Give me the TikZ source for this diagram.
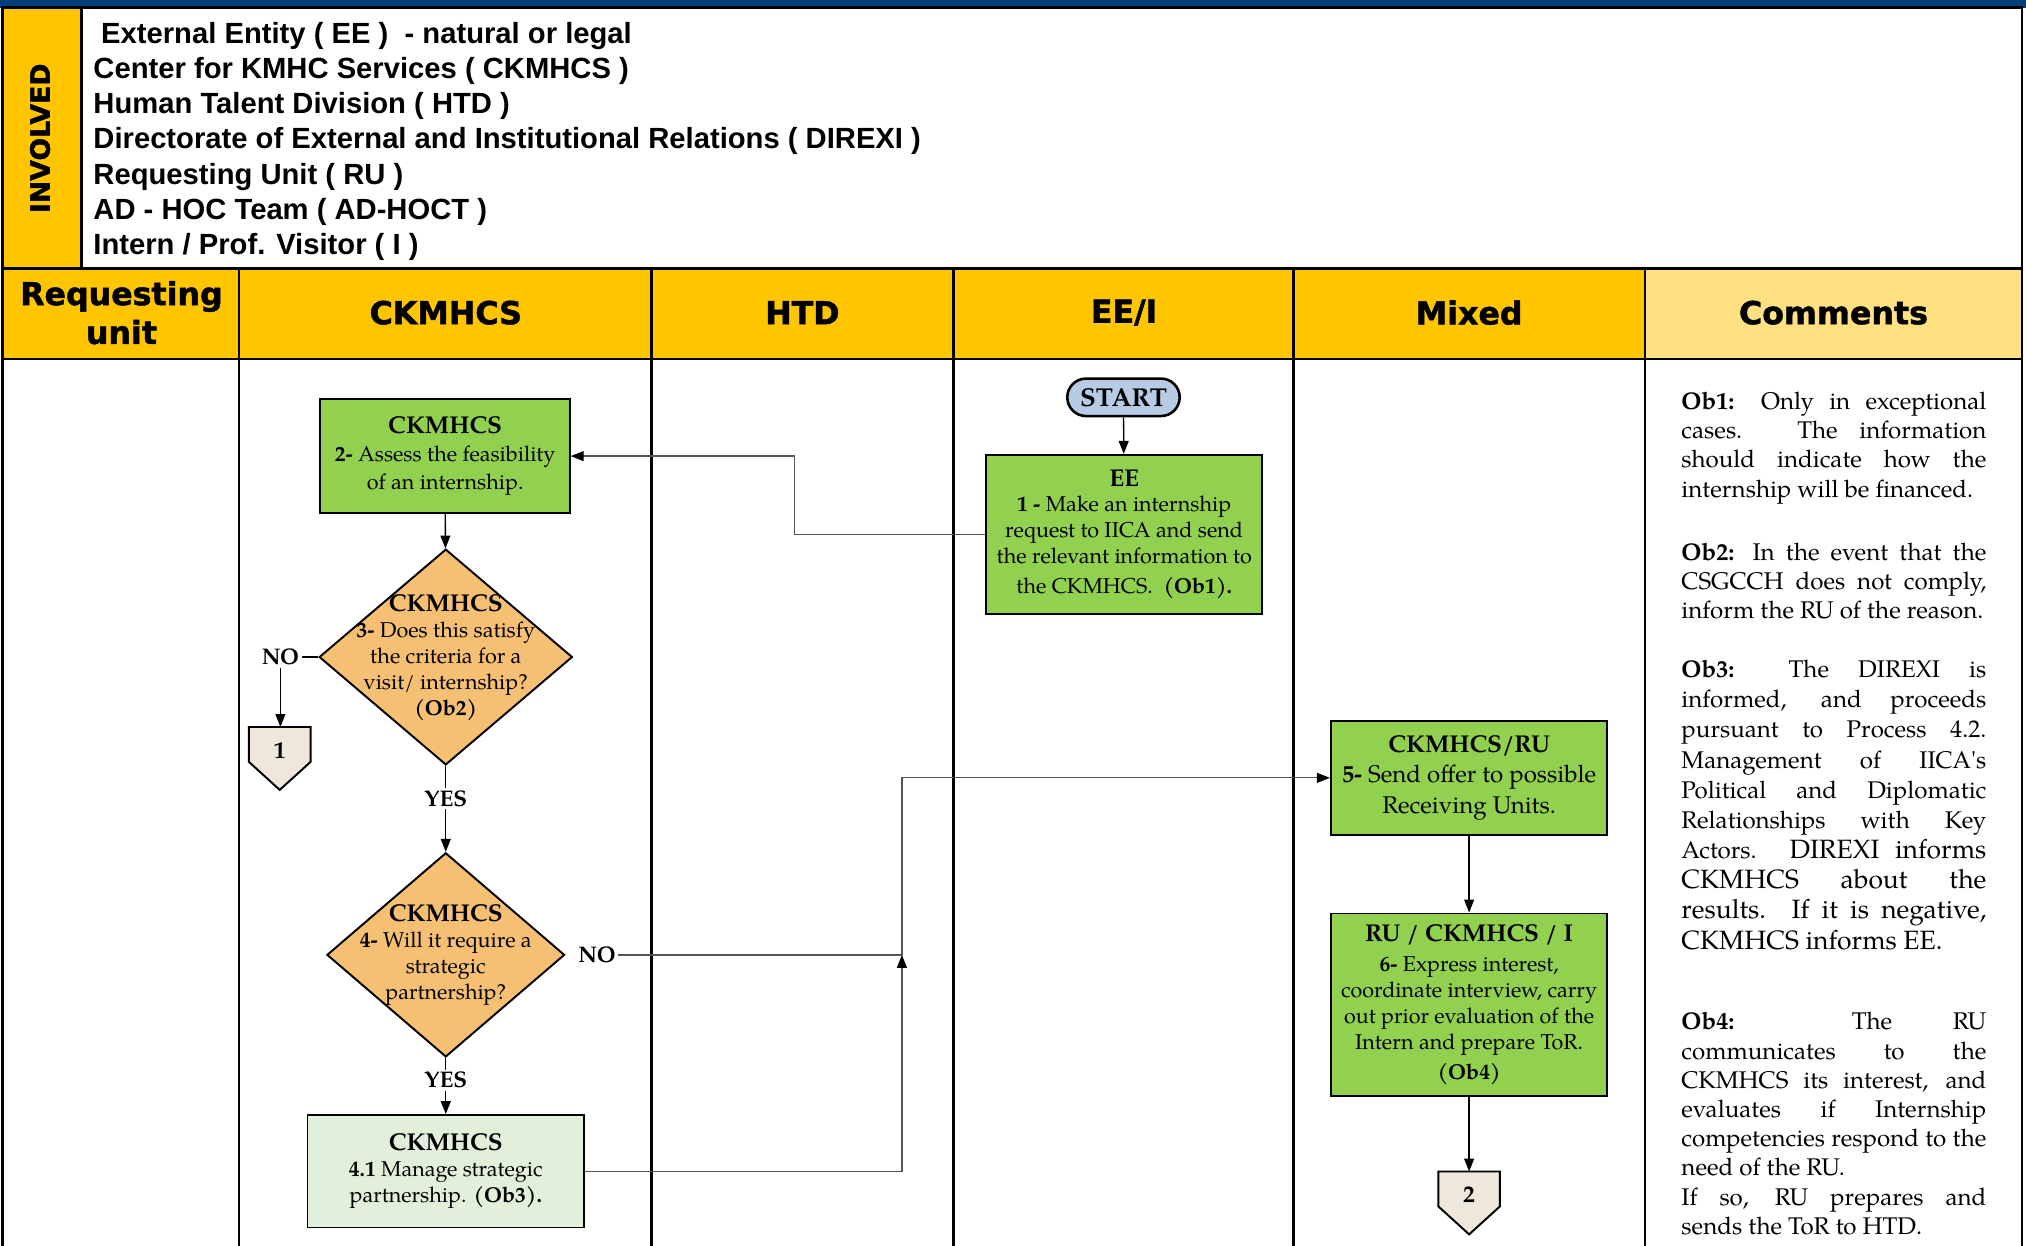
\documentclass[tikz,border=0pt]{standalone}
\usepackage{fontspec}
\usetikzlibrary{arrows.meta,shapes.geometric,calc}
\newfontfamily\pal{texgyrepagella}[Extension=.otf,UprightFont=*-regular,BoldFont=*-bold]
\newfontfamily\lsans{Liberation Sans}
\newfontfamily\dvs{DejaVu Sans}[BoldFeatures={FakeBold=1.5}]

\definecolor{navy}{RGB}{0,63,122}
\definecolor{gold}{RGB}{255,198,0}
\definecolor{paleyellow}{RGB}{255,225,130}
\definecolor{boxgreen}{RGB}{146,208,80}
\definecolor{palegreen}{RGB}{226,239,218}
\definecolor{decorange}{RGB}{245,192,116}
\definecolor{startblue}{RGB}{183,204,228}
\definecolor{connbeige}{RGB}{238,232,220}
\definecolor{linegray}{RGB}{85,85,85}

\newcommand\bodyfont{\pal\fontsize{10pt}{12pt}\selectfont}
\newcommand\bigbodyfont{\pal\fontsize{11.2pt}{14.1pt}\selectfont}
\newcommand\boxtitle[1]{{\fontsize{11.3pt}{12pt}\selectfont\bfseries #1}}
\newcommand\cmtfont{\pal\fontsize{11.2pt}{13.56pt}\selectfont}
\newcommand\hdrfont{\dvs\bfseries\fontsize{14.7pt}{18pt}\selectfont}
\newcommand\listfont{\lsans\bfseries\fontsize{13.56pt}{16.32pt}\selectfont}

\tikzset{
  frame/.style={line width=1.2pt, black},
  procbox/.style={draw, line width=0.9pt, fill=boxgreen, align=center, inner sep=0pt, font=\bodyfont},
  partbox/.style={procbox, fill=palegreen},
  decision/.style={draw, diamond, line width=0.9pt, fill=decorange, inner sep=0pt},
  dectext/.style={align=center, inner sep=0pt, font=\bodyfont},
  startbox/.style={draw, rounded corners=8.7pt, line width=1.2pt, fill=startblue, inner sep=0pt, font=\pal\bfseries\fontsize{12pt}{12pt}\selectfont},
  pagebox/.style={inner sep=0pt, minimum width=28.2pt, minimum height=28.8pt},
  pageshape/.style={draw, line width=0.9pt, fill=connbeige},
  flowlabel/.style={inner sep=1pt, font=\pal\bfseries\fontsize{10.5pt}{12pt}\selectfont},
  flow/.style={line width=0.6pt, -{Triangle[length=6pt,width=4.6pt]}},
  plainflow/.style={line width=0.6pt},
  longflow/.style={line width=0.6pt, linegray, -{Triangle[length=6pt,width=4.6pt,color=black]}},
}

\begin{document}
\begin{tikzpicture}[x=0.6pt,y=-0.6pt]
\useasboundingbox (0,0) rectangle (1568,964);
\fill[white] (0,0) rectangle (1568,964);

% title band and header fills
\fill[navy] (0,0) rectangle (1568,6);
\fill[gold] (2,6) rectangle (63,208);
\fill[gold] (2,208) rectangle (1273,278);
\fill[paleyellow] (1273,208) rectangle (1565,278);

% frame and swimlanes
\draw[frame] (2,964) -- (2,6) -- (1565,6) -- (1565,964);
\draw[frame] (63,6) -- (63,208);
\draw[frame] (2,208) -- (1565,208);
\draw[frame] (2,278) -- (1565,278);
\foreach \lx in {185,504,738,1001,1273}
  \draw[frame] (\lx,208) -- (\lx,964);

% participants
\node[rotate=90, font=\dvs\bfseries\fontsize{12.4pt}{12pt}\selectfont, inner sep=0pt] (involved) at (31,107) {INVOLVED};
\node[anchor=north west, align=left, inner sep=0pt, font=\listfont] (parties) at (72,17)
  {\hspace*{3.6pt}External Entity ( EE )\ \ - natural or legal\\
   Center for KMHC Services ( CKMHCS )\\
   Human Talent Division ( HTD )\\
   Directorate of External and Institutional Relations ( DIREXI )\\
   Requesting Unit ( RU )\\
   AD - HOC Team ( AD-HOCT )\\
   Intern / Prof. Visitor ( I )};

% lane headings
\node[align=center, inner sep=0pt, font=\hdrfont] (hru) at (94,242) {Requesting\\unit};
\node[font=\hdrfont] (hck) at (345,242) {CKMHCS};
\node[font=\hdrfont] (hhtd) at (621,242) {HTD};
\node[font=\hdrfont] (hee) at (870,242) {EE/I};
\node[font=\hdrfont] (hmix) at (1137,242) {Mixed};
\node[font=\hdrfont] (hcom) at (1419,242) {Comments};

% process steps
\node[startbox, minimum width=52.2pt, minimum height=17.4pt] (start) at (869.5,307.5) {START};

\node[procbox, minimum width=128.4pt, minimum height=73.8pt] (b1) at (870,413.5)
  {\boxtitle{EE}\\ \textbf{1 -} Make an internship\\ request to IICA and send\\ the relevant information to\\[2pt] the CKMHCS.\ \ \textbf{(Ob1).}};

\node[procbox, minimum width=115.8pt, minimum height=52.8pt] (b2) at (344.5,353)
  {\boxtitle{CKMHCS}\\[1pt] \textbf{2-} Assess the feasibility\\[1pt] of an internship.};

\node[decision, minimum width=117.6pt, minimum height=100.2pt] (d3) at (345,508.5) {};
\node[dectext] (d3t) at (345,509) {\boxtitle{CKMHCS}\\ \textbf{3-} Does this satisfy\\ the criteria for a\\ visit/ internship?\\ \textbf{(Ob2)}};

\node[decision, minimum width=110.4pt, minimum height=94.8pt] (d4) at (345,739) {};
\node[dectext] (d4t) at (345,739) {\boxtitle{CKMHCS}\\ \textbf{4-} Will it require a\\ strategic\\ partnership?};

\node[partbox, minimum width=128.4pt, minimum height=52.2pt] (b41) at (345,906.5)
  {\boxtitle{CKMHCS}\\ \textbf{4.1} Manage strategic\\ partnership. \textbf{(Ob3).}};

\node[procbox, font=\bigbodyfont, minimum width=128.4pt, minimum height=52.8pt] (b5) at (1137,602)
  {\boxtitle{CKMHCS/RU}\\ \textbf{5-} Send offer to possible\\ Receiving Units.};

\node[procbox, minimum width=128.4pt, minimum height=84.6pt] (b6) at (1137,777.5)
  {\boxtitle{RU / CKMHCS / I}\\[2pt] \textbf{6-} Express interest,\\ coordinate interview, carry\\ out prior evaluation of the\\ Intern and prepare ToR.\\[2pt] \textbf{(Ob4)}};

% off-page connectors
\node[pagebox] (c1) at (216.5,587) {};
\draw[pageshape] (c1.north west) -- (c1.north east) -- ($(c1.north east)+(0,27)$) -- (c1.south) -- ($(c1.north west)+(0,27)$) -- cycle;
\node[flowlabel, font=\pal\bfseries\fontsize{11pt}{12pt}\selectfont] (c1n) at (216.5,581) {1};

\node[pagebox] (c2) at (1137,931) {};
\draw[pageshape] (c2.north west) -- (c2.north east) -- ($(c2.north east)+(0,27)$) -- (c2.south) -- ($(c2.north west)+(0,27)$) -- cycle;
\node[flowlabel, font=\pal\bfseries\fontsize{11pt}{12pt}\selectfont] (c2n) at (1137,925) {2};

% branch labels
\node[flowlabel] (no3) at (217,508.5) {NO};
\node[flowlabel] (yes3) at (345,618) {YES};
\node[flowlabel] (no4) at (462,739) {NO};
\node[flowlabel] (yes4) at (345,836) {YES};

% flow
\draw[flow] (start) -- (b1);
\coordinate (k1) at (615,413.5);
\draw[longflow] (b1.west) -- (k1) |- (b2.east);
\draw[flow] (b2) -- (d3);
\draw[plainflow] (d3.west) -- (no3.east);
\draw[flow] (no3.south) -- (no3.south |- c1.north);
\draw[plainflow] (d3.south) -- (yes3.north);
\draw[flow] (yes3.south) -- (d4.north);
\draw[plainflow] (d4.south) -- (yes4.north);
\draw[flow] (yes4.south) -- (b41.north);
\coordinate (j) at (698,739);
\draw[longflow] (b41.east) -| (j);
\draw[longflow] (no4.east) -- (j) |- (b5.west);
\draw[flow] (b5) -- (b6);
\draw[flow] (b6.south) -- (c2.north);

% comments
\node[anchor=north west, text width=141.6pt, align=justify, inner sep=0pt, font=\cmtfont] (notes) at (1301,303)
  {\textbf{Ob1:} Only in exceptional\linebreak cases. The information\linebreak should indicate how the\linebreak internship will be financed.\par
   \vspace{15.8pt}
   \textbf{Ob2:} In the event that the\linebreak CSGCCH does not comply,\linebreak inform the RU of the reason.\par
   \vspace{13.4pt}
   {\fontsize{11.2pt}{14pt}\selectfont
   \textbf{Ob3:} The DIREXI is\linebreak informed, and proceeds\linebreak pursuant to Process 4.2.\linebreak Management of IICA's\linebreak Political and Diplomatic\linebreak Relationships with Key\linebreak Actors. {\fontsize{12.3pt}{14pt}\selectfont DIREXI informs\linebreak CKMHCS about the\linebreak results. If it is negative,\linebreak CKMHCS informs EE.}\par}
   \vspace{24pt}
   \textbf{Ob4:} The RU\linebreak communicates to the\linebreak CKMHCS its interest, and\linebreak evaluates if Internship\linebreak competencies respond to the\linebreak need of the RU.\par
   If so, RU prepares and\linebreak sends the ToR to HTD.\par};
\end{tikzpicture}
\end{document}
